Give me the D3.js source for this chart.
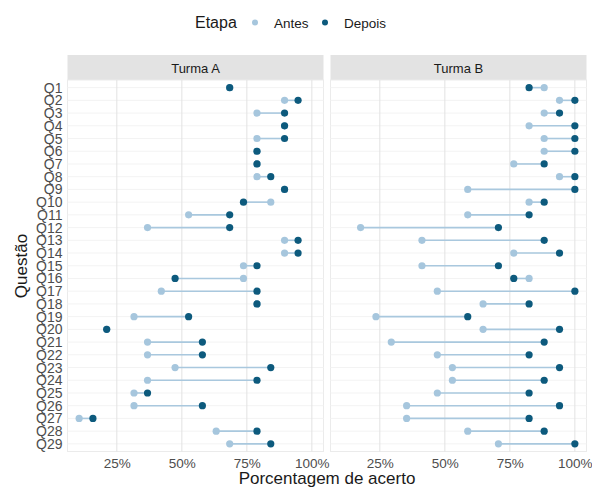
<!DOCTYPE html>
<html><head><meta charset="utf-8">
<script src="https://cdn.jsdelivr.net/npm/d3@7"></script>
<style>body{margin:0;background:#fff}svg{display:block}text{font-family:"Liberation Sans",Arial,sans-serif}</style>
</head><body><svg id="c" width="592" height="488"></svg>
<script>
const questions = d3.range(1, 30).map(i => "Q" + i);
const panels = ["Turma A", "Turma B"];
const stages = ["Antes", "Depois"];
const xTicks = [0.25, 0.5, 0.75, 1.0];
const turmaA_antes  = [0.684,0.895,0.789,0.895,0.789,0.789,0.789,0.789,0.895,0.842,0.526,0.368,0.895,0.895,0.737,0.737,0.421,0.789,0.316,0.211,0.368,0.368,0.474,0.368,0.316,0.316,0.105,0.632,0.684];
const turmaA_depois = [0.684,0.947,0.895,0.895,0.895,0.789,0.789,0.842,0.895,0.737,0.684,0.684,0.947,0.947,0.789,0.474,0.789,0.789,0.526,0.211,0.579,0.579,0.842,0.789,0.368,0.579,0.158,0.789,0.842];
const turmaB_antes  = [0.882,0.941,0.882,0.824,0.882,0.882,0.765,0.941,0.588,0.824,0.588,0.176,0.412,0.765,0.412,0.824,0.471,0.647,0.235,0.647,0.294,0.471,0.529,0.529,0.471,0.353,0.353,0.588,0.706];
const turmaB_depois = [0.824,1.000,0.941,1.000,1.000,1.000,0.882,1.000,1.000,0.882,0.824,0.706,0.882,0.941,0.706,0.765,1.000,0.824,0.588,0.941,0.882,0.824,0.941,0.882,0.824,0.941,0.824,0.882,1.000];

const series = {
  "Turma A": {Antes: turmaA_antes, Depois: turmaA_depois},
  "Turma B": {Antes: turmaB_antes, Depois: turmaB_depois}
};
const colAntes = "#a6c6dd", colDepois = "#0d5a7d", colSeg = "#a9c8de";

const svg = d3.select("#c");
const pTop = 80, pBottom = 451.5;
const panelX = [[67.5, 323.5], [330.5, 586.5]];

const all = [].concat(turmaA_antes, turmaA_depois, turmaB_antes, turmaB_depois);
const lo = d3.min(all), hi = d3.max(all), ex = (hi - lo) * 0.05;
const y = d3.scalePoint().domain(questions).range([pTop, pBottom]).padding(0.6);

// legend
const lg = svg.append("g");
lg.append("text").attr("x", 195).attr("y", 28).attr("font-size", 16).attr("fill", "#1a1a1a").text("Etapa");
lg.append("circle").attr("cx", 255).attr("cy", 22.5).attr("r", 3).attr("fill", colAntes);
lg.append("text").attr("x", 274).attr("y", 27.5).attr("font-size", 13.5).attr("fill", "#1a1a1a").text(stages[0]);
lg.append("circle").attr("cx", 325).attr("cy", 22.5).attr("r", 3).attr("fill", colDepois);
lg.append("text").attr("x", 344).attr("y", 27.5).attr("font-size", 13.5).attr("fill", "#1a1a1a").text(stages[1]);

panels.forEach((p, pi) => {
  const [x0, x1] = panelX[pi];
  const x = d3.scaleLinear().domain([lo - ex, hi + ex]).range([x0, x1]);
  const g = svg.append("g");
  // strip
  g.append("rect").attr("x", x0).attr("y", 55).attr("width", x1 - x0).attr("height", pTop - 55).attr("fill", "#e3e3e3");
  g.append("text").attr("x", (x0 + x1) / 2).attr("y", 72.5).attr("text-anchor", "middle").attr("font-size", 13).attr("fill", "#1a1a1a").text(p);
  // panel
  g.append("rect").attr("x", x0).attr("y", pTop).attr("width", x1 - x0).attr("height", pBottom - pTop).attr("fill", "#fff").attr("stroke", "#ebebeb").attr("stroke-width", 1);
  g.selectAll(".hg").data(questions).join("line").attr("x1", x0).attr("x2", x1)
    .attr("y1", d => y(d)).attr("y2", d => y(d)).attr("stroke", "#f3f3f3").attr("stroke-width", 1);
  g.selectAll(".vg").data(xTicks).join("line").attr("x1", d => x(d)).attr("x2", d => x(d))
    .attr("y1", pTop).attr("y2", pBottom).attr("stroke", "#e2e2e2").attr("stroke-width", 1);
  // x axis
  const ax = g.append("g").attr("transform", `translate(0,${pBottom})`)
    .call(d3.axisBottom(x).tickValues(xTicks).tickFormat(d3.format(".0%")).tickSize(0).tickPadding(7));
  ax.select(".domain").remove();
  ax.selectAll("text").attr("font-size", 13.5).attr("fill", "#4d4d4d").attr("font-family", "Liberation Sans, Arial, sans-serif");
  // data
  const rows = questions.map((q, i) => ({q, a: series[p].Antes[i], d: series[p].Depois[i]}));
  g.selectAll(".seg").data(rows).join("line")
    .attr("x1", d => x(d.a)).attr("x2", d => x(d.d)).attr("y1", d => y(d.q)).attr("y2", d => y(d.q))
    .attr("stroke", colSeg).attr("stroke-width", 1.6);
  g.selectAll(".pa").data(rows).join("circle").attr("cx", d => x(d.a)).attr("cy", d => y(d.q)).attr("r", 3.6).attr("fill", colAntes);
  g.selectAll(".pd").data(rows).join("circle").attr("cx", d => x(d.d)).attr("cy", d => y(d.q)).attr("r", 3.6).attr("fill", colDepois);
});

// y axis
const ay = svg.append("g").attr("transform", `translate(${panelX[0][0]},0)`)
  .call(d3.axisLeft(y).tickSize(0).tickPadding(5));
ay.select(".domain").remove();
ay.selectAll("text").attr("font-size", 14).attr("fill", "#4d4d4d").attr("font-family", "Liberation Sans, Arial, sans-serif");

svg.append("text").attr("transform", "translate(27,266) rotate(-90)").attr("text-anchor", "middle")
  .attr("font-size", 17).attr("fill", "#1a1a1a").text("Questão");
svg.append("text").attr("x", 327).attr("y", 484).attr("text-anchor", "middle")
  .attr("font-size", 17).attr("fill", "#1a1a1a").text("Porcentagem de acerto");
</script></body></html>
